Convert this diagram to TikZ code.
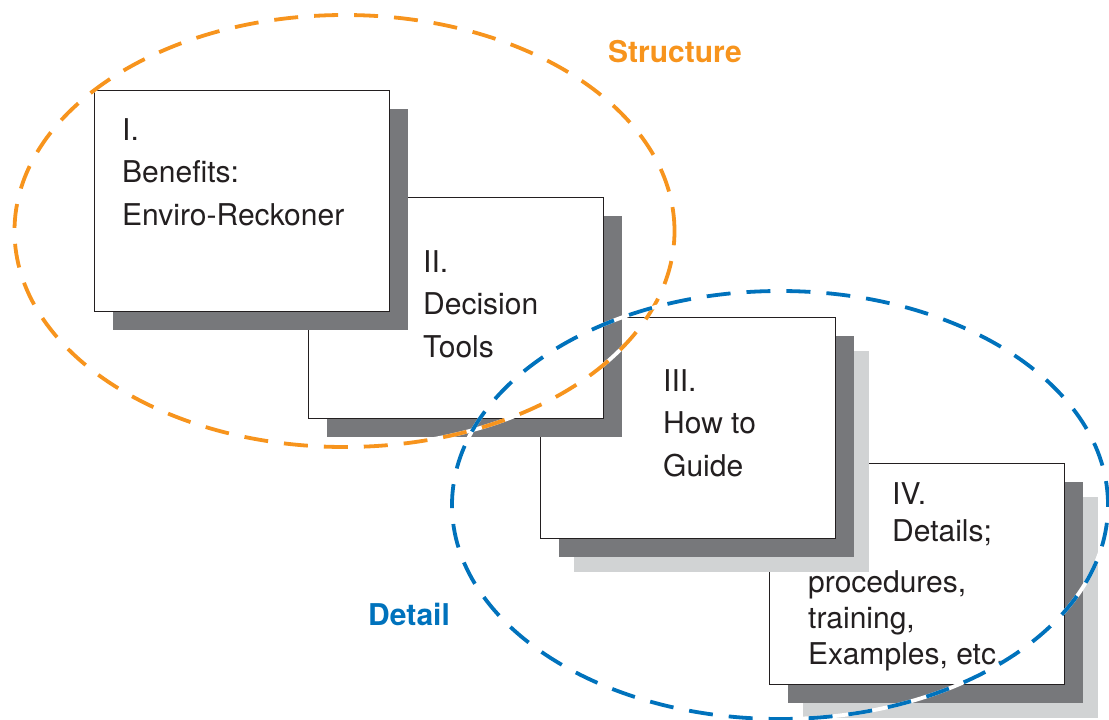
\documentclass[tikz,border=0pt]{standalone}
\usepackage{fontspec}
\setmainfont{TeX Gyre Heros}
\usetikzlibrary{positioning,shadows}
\definecolor{strorange}{RGB}{247,148,29}
\definecolor{detblue}{RGB}{0,114,188}
\definecolor{shdark}{RGB}{119,120,123}
\definecolor{shlight}{RGB}{209,211,212}
\definecolor{ink}{RGB}{35,31,32}

\begin{document}
\begin{tikzpicture}[x=1pt, y=-1pt,
    card/.style={draw=ink, line width=0.9pt, fill=white, anchor=north west,
      minimum width=295pt, minimum height=221pt, inner sep=0pt,
      general shadow={shadow xshift=19pt, shadow yshift=-19pt, fill=shdark}},
    deep card/.style={draw=ink, line width=0.9pt, fill=white, anchor=north west,
      minimum width=295pt, minimum height=221pt, inner sep=0pt,
      general shadow={shadow xshift=34pt, shadow yshift=-34pt, fill=shlight},
      general shadow={shadow xshift=19pt, shadow yshift=-19pt, fill=shdark}},
    cardtext/.style={align=left, inner sep=0pt, text=ink,
      font=\fontsize{30}{42.5}\selectfont},
    ring/.style={line width=3.8pt, dash pattern=on 24pt off 16pt},
    tag/.style={anchor=base west, inner sep=0pt,
      font=\fontsize{30}{36}\selectfont\bfseries}]
\useasboundingbox (0,0) rectangle (1109,720);

% back to front
\node[deep card] (four) at (769,463) {};
\node[cardtext, font=\fontsize{30}{37}\selectfont,
  below right=19pt and 123pt of four.north west] (fourhead) {IV.\\Details;};
\node[cardtext, font=\fontsize{30}{36}\selectfont,
  below right=107pt and 39pt of four.north west] (fourbody)
  {procedures,\\training,\\Examples, etc.};

\node[deep card] (three) at (540,317) {};
\node[cardtext, below right=52pt and 123pt of three.north west] (threetext)
  {III.\\How to\\Guide};

\node[card] (two) at (308,197) {};
\node[cardtext, below right=53pt and 115pt of two.north west] (twotext)
  {II.\\Decision\\Tools};

\node[card] (one) at (94,90) {};
\node[cardtext, below right=28pt and 28pt of one.north west] (onetext)
  {I.\\Benefits:\\Enviro-Reckoner};

% the two groupings
\coordinate (structc) at (344.5,231);
\coordinate (detc) at (780,505);
\draw[white, line width=3.8pt] (structc) ellipse [x radius=330pt, y radius=216pt];
\draw[strorange, ring] (structc) ellipse [x radius=330pt, y radius=216pt];
\draw[white, line width=3.8pt] (detc) ellipse [x radius=328pt, y radius=214pt];
\draw[detblue, ring] (detc) ellipse [x radius=328pt, y radius=214pt];

\node[tag, text=strorange] (structure) at (608,62) {Structure};
\node[tag, text=detblue] (detail) at (368,625) {Detail};
\end{tikzpicture}
\end{document}
